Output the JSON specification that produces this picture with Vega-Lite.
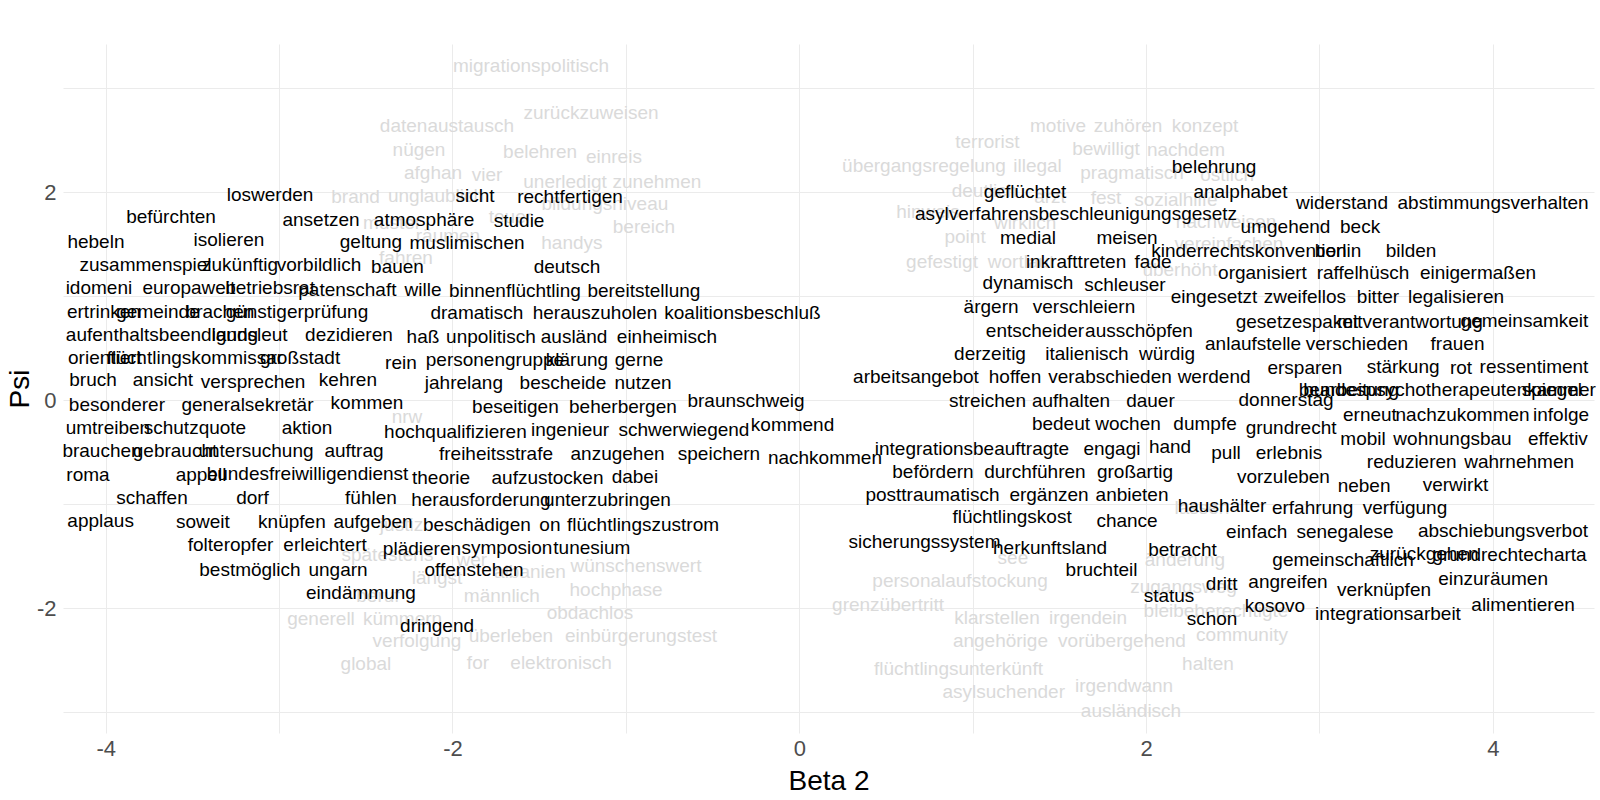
{
"$schema": "https://vega.github.io/schema/vega-lite/v6.json",
"width": 1531, "height": 689,
"autosize": "none",
"padding": {"left": 63, "top": 44, "right": 6, "bottom": 67},
"background": "white",
"config": {"view": {"stroke": null}, "font": "Liberation Sans"},
"data": {"values": [
{"w":"migrationspolitisch","x":-1.547,"y":3.214,"g":"lo"},
{"w":"zurückzuweisen","x":-1.201,"y":2.760,"g":"lo"},
{"w":"datenaustausch","x":-2.032,"y":2.638,"g":"lo"},
{"w":"nügen","x":-2.193,"y":2.407,"g":"lo"},
{"w":"belehren","x":-1.495,"y":2.390,"g":"lo"},
{"w":"einreis","x":-1.069,"y":2.337,"g":"lo"},
{"w":"afghan","x":-2.112,"y":2.186,"g":"lo"},
{"w":"vier","x":-1.801,"y":2.166,"g":"lo"},
{"w":"unerledigt","x":-1.351,"y":2.102,"g":"lo"},
{"w":"zunehmen","x":-0.821,"y":2.102,"g":"lo"},
{"w":"brand","x":-2.559,"y":1.958,"g":"lo"},
{"w":"unglaublich","x":-2.095,"y":1.964,"g":"lo"},
{"w":"bildungsniveau","x":-1.121,"y":1.885,"g":"lo"},
{"w":"muster","x":-2.348,"y":1.702,"g":"lo"},
{"w":"teuer","x":-1.666,"y":1.765,"g":"lo"},
{"w":"bereich","x":-0.896,"y":1.663,"g":"lo"},
{"w":"räumen","x":-2.026,"y":1.580,"g":"lo"},
{"w":"handys","x":-1.311,"y":1.510,"g":"lo"},
{"w":"fahren","x":-2.268,"y":1.368,"g":"lo"},
{"w":"nrw","x":-2.262,"y":-0.158,"g":"lo"},
{"w":"justiz","x":-2.294,"y":-1.199,"g":"lo"},
{"w":"spätestens","x":-2.375,"y":-1.488,"g":"lo"},
{"w":"wer","x":-1.888,"y":-1.536,"g":"lo"},
{"w":"wünschenswert","x":-0.942,"y":-1.600,"g":"lo"},
{"w":"albanien","x":-1.553,"y":-1.658,"g":"lo"},
{"w":"längst","x":-2.089,"y":-1.709,"g":"lo"},
{"w":"hochphase","x":-1.057,"y":-1.824,"g":"lo"},
{"w":"beruf","x":-2.430,"y":-1.888,"g":"lo"},
{"w":"männlich","x":-1.715,"y":-1.882,"g":"lo"},
{"w":"obdachlos","x":-1.207,"y":-2.048,"g":"lo"},
{"w":"generell","x":-2.758,"y":-2.106,"g":"lo"},
{"w":"kümmern","x":-2.288,"y":-2.106,"g":"lo"},
{"w":"überleben","x":-1.663,"y":-2.273,"g":"lo"},
{"w":"einbürgerungstest","x":-0.913,"y":-2.273,"g":"lo"},
{"w":"verfolgung","x":-2.205,"y":-2.321,"g":"lo"},
{"w":"global","x":-2.499,"y":-2.538,"g":"lo"},
{"w":"for","x":-1.853,"y":-2.529,"g":"lo"},
{"w":"elektronisch","x":-1.374,"y":-2.529,"g":"lo"},
{"w":"motive","x":1.492,"y":2.638,"g":"lo"},
{"w":"zuhören","x":1.896,"y":2.638,"g":"lo"},
{"w":"konzept","x":2.340,"y":2.638,"g":"lo"},
{"w":"terrorist","x":1.085,"y":2.487,"g":"lo"},
{"w":"bewilligt","x":1.769,"y":2.413,"g":"lo"},
{"w":"nachdem","x":2.230,"y":2.407,"g":"lo"},
{"w":"übergangsregelung","x":0.719,"y":2.253,"g":"lo"},
{"w":"illegal","x":1.374,"y":2.253,"g":"lo"},
{"w":"pragmatisch","x":1.919,"y":2.183,"g":"lo"},
{"w":"östlich","x":2.467,"y":2.166,"g":"lo"},
{"w":"deutlich","x":1.068,"y":2.013,"g":"lo"},
{"w":"arzt","x":1.446,"y":1.958,"g":"lo"},
{"w":"fest","x":1.769,"y":1.942,"g":"lo"},
{"w":"sozialhilfe","x":2.172,"y":1.926,"g":"lo"},
{"w":"hinweis","x":0.742,"y":1.811,"g":"lo"},
{"w":"nachweisen","x":2.461,"y":1.714,"g":"lo"},
{"w":"wirklich","x":1.302,"y":1.708,"g":"lo"},
{"w":"point","x":0.956,"y":1.573,"g":"lo"},
{"w":"vereinfachen","x":2.478,"y":1.503,"g":"lo"},
{"w":"gefestigt","x":0.823,"y":1.333,"g":"lo"},
{"w":"wortlaut","x":1.279,"y":1.333,"g":"lo"},
{"w":"überhöht","x":2.195,"y":1.253,"g":"lo"},
{"w":"lassen","x":2.322,"y":-1.040,"g":"lo"},
{"w":"see","x":1.232,"y":-1.519,"g":"lo"},
{"w":"änderung","x":2.224,"y":-1.536,"g":"lo"},
{"w":"personalaufstockung","x":0.927,"y":-1.735,"g":"lo"},
{"w":"zugangsweg","x":2.216,"y":-1.795,"g":"lo"},
{"w":"grenzübertritt","x":0.512,"y":-1.968,"g":"lo"},
{"w":"bleibeberechtigte","x":2.403,"y":-2.033,"g":"lo"},
{"w":"klarstellen","x":1.140,"y":-2.096,"g":"lo"},
{"w":"irgendein","x":1.665,"y":-2.096,"g":"lo"},
{"w":"community","x":2.553,"y":-2.257,"g":"lo"},
{"w":"angehörige","x":1.160,"y":-2.321,"g":"lo"},
{"w":"vorübergehend","x":1.861,"y":-2.321,"g":"lo"},
{"w":"halten","x":2.357,"y":-2.536,"g":"lo"},
{"w":"flüchtlingsunterkünft","x":0.918,"y":-2.587,"g":"lo"},
{"w":"irgendwann","x":1.873,"y":-2.754,"g":"lo"},
{"w":"asylsuchender","x":1.179,"y":-2.812,"g":"lo"},
{"w":"ausländisch","x":1.913,"y":-2.994,"g":"lo"},
{"w":"loswerden","x":-3.052,"y":1.971,"g":"hi"},
{"w":"sicht","x":-1.870,"y":1.964,"g":"hi"},
{"w":"rechtfertigen","x":-1.322,"y":1.958,"g":"hi"},
{"w":"befürchten","x":-3.623,"y":1.765,"g":"hi"},
{"w":"ansetzen","x":-2.758,"y":1.734,"g":"hi"},
{"w":"atmosphäre","x":-2.164,"y":1.734,"g":"hi"},
{"w":"studie","x":-1.616,"y":1.724,"g":"hi"},
{"w":"hebeln","x":-4.056,"y":1.525,"g":"hi"},
{"w":"isolieren","x":-3.289,"y":1.541,"g":"hi"},
{"w":"geltung","x":-2.470,"y":1.525,"g":"hi"},
{"w":"muslimischen","x":-1.916,"y":1.510,"g":"hi"},
{"w":"zusammenspiel","x":-3.770,"y":1.301,"g":"hi"},
{"w":"zukünftig","x":-3.225,"y":1.301,"g":"hi"},
{"w":"vorbildlich","x":-2.770,"y":1.301,"g":"hi"},
{"w":"bauen","x":-2.317,"y":1.285,"g":"hi"},
{"w":"deutsch","x":-1.340,"y":1.279,"g":"hi"},
{"w":"idomeni","x":-4.039,"y":1.077,"g":"hi"},
{"w":"europaweit","x":-3.520,"y":1.077,"g":"hi"},
{"w":"betriebsrat","x":-3.052,"y":1.077,"g":"hi"},
{"w":"patenschaft","x":-2.606,"y":1.061,"g":"hi"},
{"w":"wille","x":-2.170,"y":1.061,"g":"hi"},
{"w":"binnenflüchtling","x":-1.640,"y":1.054,"g":"hi"},
{"w":"bereitstellung","x":-0.896,"y":1.054,"g":"hi"},
{"w":"ertrinken","x":-4.010,"y":0.852,"g":"hi"},
{"w":"gemeinde","x":-3.698,"y":0.852,"g":"hi"},
{"w":"brachen","x":-3.341,"y":0.852,"g":"hi"},
{"w":"günstigerprüfung","x":-2.897,"y":0.852,"g":"hi"},
{"w":"dramatisch","x":-1.859,"y":0.837,"g":"hi"},
{"w":"herauszuholen","x":-1.178,"y":0.837,"g":"hi"},
{"w":"koalitionsbeschluß","x":-0.328,"y":0.837,"g":"hi"},
{"w":"aufenthaltsbeendigung","x":-3.675,"y":0.628,"g":"hi"},
{"w":"landsleut","x":-3.17,"y":0.628,"g":"hi"},
{"w":"dezidieren","x":-2.597,"y":0.628,"g":"hi"},
{"w":"haß","x":-2.170,"y":0.612,"g":"hi"},
{"w":"unpolitisch","x":-1.778,"y":0.612,"g":"hi"},
{"w":"ausländ","x":-1.299,"y":0.612,"g":"hi"},
{"w":"einheimisch","x":-0.763,"y":0.612,"g":"hi"},
{"w":"orientiert","x":-4.004,"y":0.404,"g":"hi"},
{"w":"flüchtlingskommissar","x":-3.485,"y":0.404,"g":"hi"},
{"w":"großstadt","x":-2.879,"y":0.404,"g":"hi"},
{"w":"rein","x":-2.297,"y":0.362,"g":"hi"},
{"w":"personengruppe","x":-1.755,"y":0.388,"g":"hi"},
{"w":"klärung","x":-1.282,"y":0.388,"g":"hi"},
{"w":"gerne","x":-0.924,"y":0.388,"g":"hi"},
{"w":"bruch","x":-4.073,"y":0.195,"g":"hi"},
{"w":"ansicht","x":-3.670,"y":0.195,"g":"hi"},
{"w":"versprechen","x":-3.150,"y":0.179,"g":"hi"},
{"w":"kehren","x":-2.603,"y":0.195,"g":"hi"},
{"w":"jahrelang","x":-1.934,"y":0.163,"g":"hi"},
{"w":"bescheide","x":-1.363,"y":0.163,"g":"hi"},
{"w":"nutzen","x":-0.901,"y":0.163,"g":"hi"},
{"w":"braunschweig","x":-0.307,"y":-0.013,"g":"hi"},
{"w":"besonderer","x":-3.935,"y":-0.045,"g":"hi"},
{"w":"generalsekretär","x":-3.182,"y":-0.045,"g":"hi"},
{"w":"kommen","x":-2.493,"y":-0.029,"g":"hi"},
{"w":"beseitigen","x":-1.637,"y":-0.062,"g":"hi"},
{"w":"beherbergen","x":-1.017,"y":-0.062,"g":"hi"},
{"w":"kommend","x":-0.039,"y":-0.238,"g":"hi"},
{"w":"umtreiben","x":-3.987,"y":-0.269,"g":"hi"},
{"w":"schutzquote","x":-3.485,"y":-0.269,"g":"hi"},
{"w":"aktion","x":-2.839,"y":-0.269,"g":"hi"},
{"w":"hochqualifizieren","x":-1.983,"y":-0.302,"g":"hi"},
{"w":"ingenieur","x":-1.322,"y":-0.292,"g":"hi"},
{"w":"schwerwiegend","x":-0.665,"y":-0.286,"g":"hi"},
{"w":"brauchen","x":-4.021,"y":-0.494,"g":"hi"},
{"w":"gebraucht","x":-3.600,"y":-0.494,"g":"hi"},
{"w":"untersuchung","x":-3.133,"y":-0.494,"g":"hi"},
{"w":"auftrag","x":-2.568,"y":-0.494,"g":"hi"},
{"w":"freiheitsstrafe","x":-1.749,"y":-0.519,"g":"hi"},
{"w":"anzugehen","x":-1.048,"y":-0.519,"g":"hi"},
{"w":"speichern","x":-0.463,"y":-0.519,"g":"hi"},
{"w":"nachkommen","x":0.148,"y":-0.558,"g":"hi"},
{"w":"roma","x":-4.102,"y":-0.718,"g":"hi"},
{"w":"appell","x":-3.450,"y":-0.718,"g":"hi"},
{"w":"bundesfreiwilligendienst","x":-2.836,"y":-0.709,"g":"hi"},
{"w":"theorie","x":-2.066,"y":-0.750,"g":"hi"},
{"w":"aufzustocken","x":-1.452,"y":-0.750,"g":"hi"},
{"w":"dabei","x":-0.948,"y":-0.735,"g":"hi"},
{"w":"schaffen","x":-3.733,"y":-0.942,"g":"hi"},
{"w":"dorf","x":-3.153,"y":-0.942,"g":"hi"},
{"w":"fühlen","x":-2.470,"y":-0.942,"g":"hi"},
{"w":"herausforderung","x":-1.836,"y":-0.959,"g":"hi"},
{"w":"unterzubringen","x":-1.106,"y":-0.959,"g":"hi"},
{"w":"applaus","x":-4.029,"y":-1.167,"g":"hi"},
{"w":"soweit","x":-3.439,"y":-1.177,"g":"hi"},
{"w":"knüpfen","x":-2.926,"y":-1.177,"g":"hi"},
{"w":"aufgeben","x":-2.458,"y":-1.177,"g":"hi"},
{"w":"beschädigen","x":-1.859,"y":-1.199,"g":"hi"},
{"w":"on","x":-1.438,"y":-1.199,"g":"hi"},
{"w":"flüchtlingszustrom","x":-0.901,"y":-1.199,"g":"hi"},
{"w":"folteropfer","x":-3.280,"y":-1.391,"g":"hi"},
{"w":"erleichtert","x":-2.735,"y":-1.391,"g":"hi"},
{"w":"plädieren","x":-2.176,"y":-1.433,"g":"hi"},
{"w":"symposion","x":-1.686,"y":-1.423,"g":"hi"},
{"w":"tunesium","x":-1.196,"y":-1.423,"g":"hi"},
{"w":"bestmöglich","x":-3.168,"y":-1.632,"g":"hi"},
{"w":"ungarn","x":-2.660,"y":-1.632,"g":"hi"},
{"w":"offenstehen","x":-1.876,"y":-1.638,"g":"hi"},
{"w":"eindämmung","x":-2.528,"y":-1.856,"g":"hi"},
{"w":"dringend","x":-2.089,"y":-2.177,"g":"hi"},
{"w":"belehrung","x":2.392,"y":2.246,"g":"hi"},
{"w":"geflüchtet","x":1.302,"y":2.006,"g":"hi"},
{"w":"analphabet","x":2.544,"y":2.006,"g":"hi"},
{"w":"widerstand","x":3.130,"y":1.900,"g":"hi"},
{"w":"abstimmungsverhalten","x":4.001,"y":1.900,"g":"hi"},
{"w":"asylverfahrensbeschleunigungsgesetz","x":1.596,"y":1.791,"g":"hi"},
{"w":"umgehend","x":2.804,"y":1.669,"g":"hi"},
{"w":"beck","x":3.234,"y":1.669,"g":"hi"},
{"w":"medial","x":1.319,"y":1.558,"g":"hi"},
{"w":"meisen","x":1.890,"y":1.558,"g":"hi"},
{"w":"kinderrechtskonvention","x":2.593,"y":1.438,"g":"hi"},
{"w":"berlin","x":3.107,"y":1.438,"g":"hi"},
{"w":"bilden","x":3.528,"y":1.438,"g":"hi"},
{"w":"inkrafttreten","x":1.596,"y":1.333,"g":"hi"},
{"w":"fade","x":2.040,"y":1.333,"g":"hi"},
{"w":"organisiert","x":2.671,"y":1.221,"g":"hi"},
{"w":"raffelhüsch","x":3.251,"y":1.221,"g":"hi"},
{"w":"einigermaßen","x":3.914,"y":1.221,"g":"hi"},
{"w":"dynamisch","x":1.319,"y":1.123,"g":"hi"},
{"w":"schleuser","x":1.878,"y":1.109,"g":"hi"},
{"w":"eingesetzt","x":2.392,"y":0.988,"g":"hi"},
{"w":"zweifellos","x":2.916,"y":0.990,"g":"hi"},
{"w":"bitter","x":3.337,"y":0.990,"g":"hi"},
{"w":"legalisieren","x":3.787,"y":0.990,"g":"hi"},
{"w":"ärgern","x":1.106,"y":0.894,"g":"hi"},
{"w":"verschleiern","x":1.642,"y":0.894,"g":"hi"},
{"w":"gesetzespaket","x":2.870,"y":0.756,"g":"hi"},
{"w":"mitverantwortung","x":3.522,"y":0.756,"g":"hi"},
{"w":"gemeinsamkeit","x":4.182,"y":0.765,"g":"hi"},
{"w":"entscheider","x":1.359,"y":0.666,"g":"hi"},
{"w":"ausschöpfen","x":1.959,"y":0.666,"g":"hi"},
{"w":"anlaufstelle","x":2.617,"y":0.541,"g":"hi"},
{"w":"verschieden","x":3.216,"y":0.541,"g":"hi"},
{"w":"frauen","x":3.796,"y":0.541,"g":"hi"},
{"w":"derzeitig","x":1.100,"y":0.442,"g":"hi"},
{"w":"italienisch","x":1.659,"y":0.442,"g":"hi"},
{"w":"würdig","x":2.121,"y":0.442,"g":"hi"},
{"w":"ersparen","x":2.916,"y":0.308,"g":"hi"},
{"w":"stärkung","x":3.482,"y":0.317,"g":"hi"},
{"w":"rot","x":3.816,"y":0.311,"g":"hi"},
{"w":"ressentiment","x":4.237,"y":0.317,"g":"hi"},
{"w":"arbeitsangebot","x":0.673,"y":0.221,"g":"hi"},
{"w":"hoffen","x":1.244,"y":0.221,"g":"hi"},
{"w":"verabschieden","x":1.792,"y":0.221,"g":"hi"},
{"w":"werdend","x":2.392,"y":0.221,"g":"hi"},
{"w":"bearbeitung","x":3.17,"y":0.099,"g":"hi"},
{"w":"bundespsychotherapeutenkammer","x":3.75,"y":0.099,"g":"hi"},
{"w":"spiegel","x":4.34,"y":0.099,"g":"hi"},
{"w":"donnerstag","x":2.807,"y":0.003,"g":"hi"},
{"w":"streichen","x":1.085,"y":-0.013,"g":"hi"},
{"w":"aufhalten","x":1.567,"y":-0.013,"g":"hi"},
{"w":"dauer","x":2.025,"y":-0.013,"g":"hi"},
{"w":"erneut","x":3.291,"y":-0.141,"g":"hi"},
{"w":"nachzukommen","x":3.825,"y":-0.141,"g":"hi"},
{"w":"infolge","x":4.393,"y":-0.141,"g":"hi"},
{"w":"bedeut","x":1.509,"y":-0.228,"g":"hi"},
{"w":"wochen","x":1.896,"y":-0.228,"g":"hi"},
{"w":"dumpfe","x":2.340,"y":-0.228,"g":"hi"},
{"w":"grundrecht","x":2.836,"y":-0.269,"g":"hi"},
{"w":"mobil","x":3.251,"y":-0.375,"g":"hi"},
{"w":"wohnungsbau","x":3.767,"y":-0.375,"g":"hi"},
{"w":"effektiv","x":4.375,"y":-0.375,"g":"hi"},
{"w":"integrationsbeauftragte","x":0.996,"y":-0.468,"g":"hi"},
{"w":"engagi","x":1.803,"y":-0.468,"g":"hi"},
{"w":"hand","x":2.138,"y":-0.446,"g":"hi"},
{"w":"pull","x":2.461,"y":-0.504,"g":"hi"},
{"w":"erlebnis","x":2.824,"y":-0.504,"g":"hi"},
{"w":"reduzieren","x":3.532,"y":-0.596,"g":"hi"},
{"w":"wahrnehmen","x":4.151,"y":-0.596,"g":"hi"},
{"w":"befördern","x":0.771,"y":-0.687,"g":"hi"},
{"w":"durchführen","x":1.359,"y":-0.687,"g":"hi"},
{"w":"großartig","x":1.936,"y":-0.687,"g":"hi"},
{"w":"vorzuleben","x":2.792,"y":-0.740,"g":"hi"},
{"w":"neben","x":3.257,"y":-0.824,"g":"hi"},
{"w":"verwirkt","x":3.784,"y":-0.814,"g":"hi"},
{"w":"posttraumatisch","x":0.768,"y":-0.911,"g":"hi"},
{"w":"ergänzen","x":1.440,"y":-0.911,"g":"hi"},
{"w":"anbieten","x":1.919,"y":-0.911,"g":"hi"},
{"w":"haushälter","x":2.438,"y":-1.023,"g":"hi"},
{"w":"erfahrung","x":2.960,"y":-1.038,"g":"hi"},
{"w":"verfügung","x":3.493,"y":-1.038,"g":"hi"},
{"w":"flüchtlingskost","x":1.227,"y":-1.125,"g":"hi"},
{"w":"chance","x":1.890,"y":-1.158,"g":"hi"},
{"w":"einfach","x":2.638,"y":-1.269,"g":"hi"},
{"w":"senegalese","x":3.147,"y":-1.269,"g":"hi"},
{"w":"abschiebungsverbot","x":4.058,"y":-1.263,"g":"hi"},
{"w":"sicherungssystem","x":0.722,"y":-1.360,"g":"hi"},
{"w":"herkunftsland","x":1.446,"y":-1.423,"g":"hi"},
{"w":"betracht","x":2.210,"y":-1.439,"g":"hi"},
{"w":"zurückgehen","x":3.603,"y":-1.478,"g":"hi"},
{"w":"grundrechtecharta","x":4.096,"y":-1.488,"g":"hi"},
{"w":"gemeinschaftlich","x":3.136,"y":-1.542,"g":"hi"},
{"w":"bruchteil","x":1.743,"y":-1.638,"g":"hi"},
{"w":"einzuräumen","x":4.001,"y":-1.721,"g":"hi"},
{"w":"angreifen","x":2.818,"y":-1.754,"g":"hi"},
{"w":"dritt","x":2.436,"y":-1.766,"g":"hi"},
{"w":"verknüpfen","x":3.372,"y":-1.824,"g":"hi"},
{"w":"status","x":2.132,"y":-1.882,"g":"hi"},
{"w":"alimentieren","x":4.174,"y":-1.968,"g":"hi"},
{"w":"kosovo","x":2.743,"y":-1.985,"g":"hi"},
{"w":"integrationsarbeit","x":3.395,"y":-2.055,"g":"hi"},
{"w":"schon","x":2.380,"y":-2.106,"g":"hi"}
]},
"mark": {"type": "text", "fontSize": 19, "font": "Liberation Sans", "align": "center", "baseline": "middle"},
"encoding": {
"x": {"field": "x", "type": "quantitative",
 "scale": {"domain": [-4.246, 4.583], "nice": false, "zero": false},
 "axis": {"title": "Beta 2", "values": [-4,-3,-2,-1,0,1,2,3,4],
  "labelExpr": "datum.value % 2 === 0 ? ((datum.value < 0 ? '-' : '') + abs(datum.value)) : ''",
  "domain": false, "ticks": false, "gridColor": "#ebebeb", "gridWidth": 1.07,
  "labelFont": "Liberation Sans", "labelFontSize": 22, "labelColor": "#4d4d4d", "labelPadding": 5,
  "titleFont": "Liberation Sans", "titleFontSize": 28, "titleColor": "#000000", "titleFontWeight": "normal",
  "titleY": 48, "titleBaseline": "middle"}},
"y": {"field": "y", "type": "quantitative",
 "scale": {"domain": [-3.202, 3.426], "nice": false, "zero": false},
 "axis": {"title": "Psi", "values": [-3,-2,-1,0,1,2,3],
  "labelExpr": "datum.value % 2 === 0 ? ((datum.value < 0 ? '-' : '') + abs(datum.value)) : ''",
  "domain": false, "ticks": false, "gridColor": "#ebebeb", "gridWidth": 1.07,
  "labelFont": "Liberation Sans", "labelFontSize": 22, "labelColor": "#4d4d4d", "labelPadding": 7,
  "titleFont": "Liberation Sans", "titleFontSize": 28, "titleColor": "#000000", "titleFontWeight": "normal",
  "titleX": -43, "titleY": 344.5, "titleBaseline": "middle", "titleAlign": "center"}},
"text": {"field": "w"},
"color": {"field": "g", "type": "nominal", "scale": {"domain": ["lo","hi"], "range": ["#dadada","#000000"]}, "legend": null}
}
}
